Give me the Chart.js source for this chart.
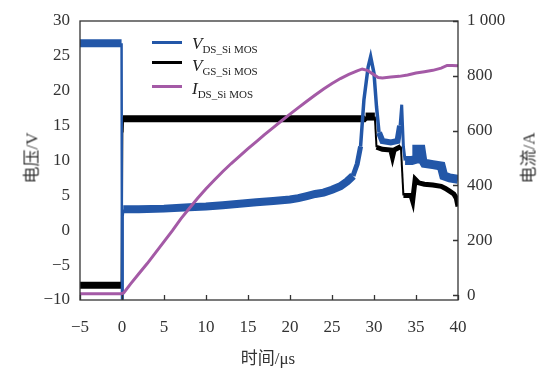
<!DOCTYPE html>
<html>
<head>
<meta charset="utf-8">
<script src="https://cdn.jsdelivr.net/npm/chart.js@4/dist/chart.umd.min.js"></script>
<style>
  body { margin: 0; background: #fff; }
  #wrap { position: relative; width: 545px; height: 370px; }
  #chart { position: absolute; left: 0; top: 0; }
  .axt { position: absolute; font-family: "Liberation Serif", "Noto Sans CJK SC", serif; font-size: 17px; color: #333; white-space: nowrap; transform: translate(-50%, -50%); }
  .rot { transform: translate(-50%, -50%) rotate(-90deg); }
  .ln { position: absolute; left: 152px; width: 30px; height: 2.5px; }
  .lg { position: absolute; left: 192px; font-family: "Liberation Serif", serif; font-size: 17px; line-height: 17px; color: #222; white-space: nowrap; }
  .lg i { font-style: italic; }
  .lg sub { font-size: 11px; vertical-align: -4px; }
</style>
</head>
<body>
<div id="wrap">
  <canvas id="chart" width="545" height="370"></canvas>
  <div class="axt rot" style="left:30px; top:158px;">电压/V</div>
  <div class="axt rot" style="left:527px; top:158px;">电流/A</div>
  <div class="axt" style="left:268px; top:356px;">时间/μs</div>
  <div class="ln" style="top:41px; background:#2357a8;"></div>
  <div class="ln" style="top:61px; background:#000;"></div>
  <div class="ln" style="top:85px; background:#a45aa6;"></div>
  <div class="lg" style="top:35px;"><i>V</i><sub>DS_Si MOS</sub></div>
  <div class="lg" style="top:57px;"><i>V</i><sub>GS_Si MOS</sub></div>
  <div class="lg" style="top:80px;"><i>I</i><sub>DS_Si MOS</sub></div>
</div>
<script>
// tick labels
const timeTicks = [-5, 0, 5, 10, 15, 20, 25, 30, 35, 40];
const voltageTicks = [-10, -5, 0, 5, 10, 15, 20, 25, 30];
const currentTicks = [0, 200, 400, 600, 800, 1000];

// V_DS (V)
const vdsTime = [-5, -4, -3, -2, -1, -0.05, 0, 0.08, 0.15, 2, 5, 8, 10, 12, 14, 16, 18, 20, 21, 22, 23, 24, 25, 26, 26.8, 27.5, 28, 28.4, 28.8, 29.3, 29.6, 30, 30.3, 30.6, 31, 32, 32.8, 33.1, 33.3, 33.5, 33.7, 34.5, 35, 35.1, 35.6, 35.8, 36, 37, 38, 38.3, 39, 40];
const vdsValue = [26.8, 26.8, 26.8, 26.8, 26.8, 26.8, -9.8, 2.0, 3.0, 3.0, 3.1, 3.3, 3.4, 3.6, 3.8, 4.0, 4.2, 4.4, 4.6, 4.9, 5.2, 5.4, 5.8, 6.3, 7.0, 7.8, 9.5, 12, 18.7, 23.4, 24.9, 22.5, 17.7, 14, 12.8, 12.6, 12.8, 15, 18, 12, 10, 10, 10.2, 11.6, 11.6, 10.0, 9.6, 9.4, 9.2, 7.8, 7.5, 7.3];

// V_GS (V)
const vgsTime = [-5, -0.05, 0.05, 0.08, 0.12, 5, 10, 15, 20, 25, 28.8, 29, 30.1, 30.3, 31, 32, 32.2, 32.4, 33.2, 33.5, 34, 34.4, 34.6, 34.9, 35.3, 36, 37, 38, 38.5, 39, 39.5, 39.8, 40];
const vgsValue = [-7.9, -7.9, 16.2, 14.0, 16.0, 16.0, 16.0, 16.0, 16.0, 16.0, 16.0, 16.3, 16.3, 11.9, 11.6, 11.5, 10.5, 11.5, 12.0, 5.0, 5.0, 5.0, 4.2, 7.3, 6.8, 6.6, 6.5, 6.3, 6.0, 5.6, 5.2, 4.6, 3.4];

// I_DS (A)
const idsTime = [-5, -0.1, 0.2, 1, 2, 3, 4, 5, 6, 7, 8, 9, 10, 11, 12, 13, 14, 15, 16, 17, 18, 19, 20, 21, 22, 23, 24, 25, 26, 27, 28, 28.6, 29.2, 29.8, 30.5, 31, 32, 33, 34, 35, 36, 37, 38, 38.7, 39.3, 40];
const idsValue = [5, 5, 8, 40, 78, 115, 155, 195, 235, 278, 316, 353, 388, 420, 451, 480, 507, 534, 560, 586, 611, 636, 660, 684, 707, 730, 752, 772, 790, 805, 818, 825, 820, 808, 794, 792, 796, 798, 803, 810, 815, 820, 828, 838, 838, 837];

const toPoints = (xs, ys) => xs.map((x, i) => ({ x: x, y: ys[i] }));

// noisy parts of the traces are drawn as thick bands
function bandWidth(ranges, thin) {
    return ctx => {
        const x0 = ctx.p0.parsed.x, x1 = ctx.p1.parsed.x;
        for (const [a, b, w] of ranges) {
            if (x0 >= a && x1 <= b) return w;
        }
        return thin;
    };
}

const serif = 'Liberation Serif';

const framePlugin = {
    id: 'frame',
    afterDatasetsDraw(chart) {
        const { ctx, chartArea: a, scales } = chart;
        ctx.save();
        ctx.strokeStyle = '#333';
        ctx.lineWidth = 1.3;
        ctx.strokeRect(a.left, a.top, a.right - a.left, a.bottom - a.top);
        ctx.beginPath();
        scales.x.ticks.forEach(t => {
            const px = Math.round(scales.x.getPixelForValue(t.value)) + 0.5;
            ctx.moveTo(px, a.bottom);
            ctx.lineTo(px, a.bottom - 5);
        });
        scales.yI.ticks.forEach(t => {
            const py = Math.round(scales.yI.getPixelForValue(t.value)) + 0.5;
            ctx.moveTo(a.right, py);
            ctx.lineTo(a.right - 5, py);
        });
        ctx.stroke();
        ctx.restore();
    }
};

new Chart(document.getElementById('chart'), {
    type: 'line',
    data: {
        datasets: [
            {
                label: 'I_DS_Si MOS',
                data: toPoints(idsTime, idsValue),
                yAxisID: 'yI',
                borderColor: '#a45aa6',
                borderWidth: 3,
                order: 0
            },
            {
                label: 'V_DS_Si MOS',
                data: toPoints(vdsTime, vdsValue),
                yAxisID: 'yV',
                borderColor: '#2357a8',
                borderWidth: 2.5,
                segment: {
                    borderWidth: bandWidth([[-5, -0.05, 8], [0.15, 27.5, 8], [27.5, 28.4, 5], [28.4, 30.6, 3.5], [30.6, 33.1, 6], [33.1, 33.7, 3], [33.7, 40, 9]], 2.5)
                },
                order: 1
            },
            {
                label: 'V_GS_Si MOS',
                data: toPoints(vgsTime, vgsValue),
                yAxisID: 'yV',
                borderColor: '#000',
                borderWidth: 2,
                segment: {
                    borderWidth: bandWidth([[-5, -0.05, 7], [0.12, 29, 7], [29, 30.1, 8], [30.3, 33.2, 5], [33.5, 40, 5]], 2)
                },
                order: 2
            }
        ]
    },
    options: {
        responsive: false,
        animation: false,
        devicePixelRatio: 1,
        parsing: false,
        elements: { point: { radius: 0 }, line: { tension: 0 } },
        layout: { padding: { top: 21, left: 0, right: 0, bottom: 0 } },
        plugins: { legend: { display: false }, tooltip: { enabled: false } },
        scales: {
            x: {
                type: 'linear',
                min: -5,
                max: 40,
                grid: { display: false, drawTicks: false },
                border: { display: false },
                afterBuildTicks: s => { s.ticks = timeTicks.map(v => ({ value: v })); },
                afterFit: s => { s.height = 70; },
                ticks: {
                    padding: 17,
                    color: '#333',
                    font: { family: serif, size: 17 },
                    maxRotation: 0,
                    callback: v => String(v).replace('-', '\u2212')
                }
            },
            yV: {
                type: 'linear',
                position: 'left',
                min: -10,
                max: 30,
                grid: { display: false, drawTicks: false },
                border: { display: false },
                afterBuildTicks: s => { s.ticks = voltageTicks.map(v => ({ value: v })); },
                afterFit: s => { s.width = 80; },
                ticks: {
                    padding: 10,
                    color: '#333',
                    font: { family: serif, size: 17 },
                    callback: v => String(v).replace('-', '\u2212')
                }
            },
            yI: {
                type: 'linear',
                position: 'right',
                min: -18,
                max: 1000,
                grid: { display: false, drawTicks: false },
                border: { display: false },
                afterBuildTicks: s => { s.ticks = currentTicks.map(v => ({ value: v })); },
                afterFit: s => { s.width = 87; },
                ticks: {
                    padding: 9,
                    color: '#333',
                    font: { family: serif, size: 17 },
                    callback: v => v === 1000 ? '1 000' : String(v)
                }
            }
        }
    },
    plugins: [framePlugin]
});
</script>
</body>
</html>
